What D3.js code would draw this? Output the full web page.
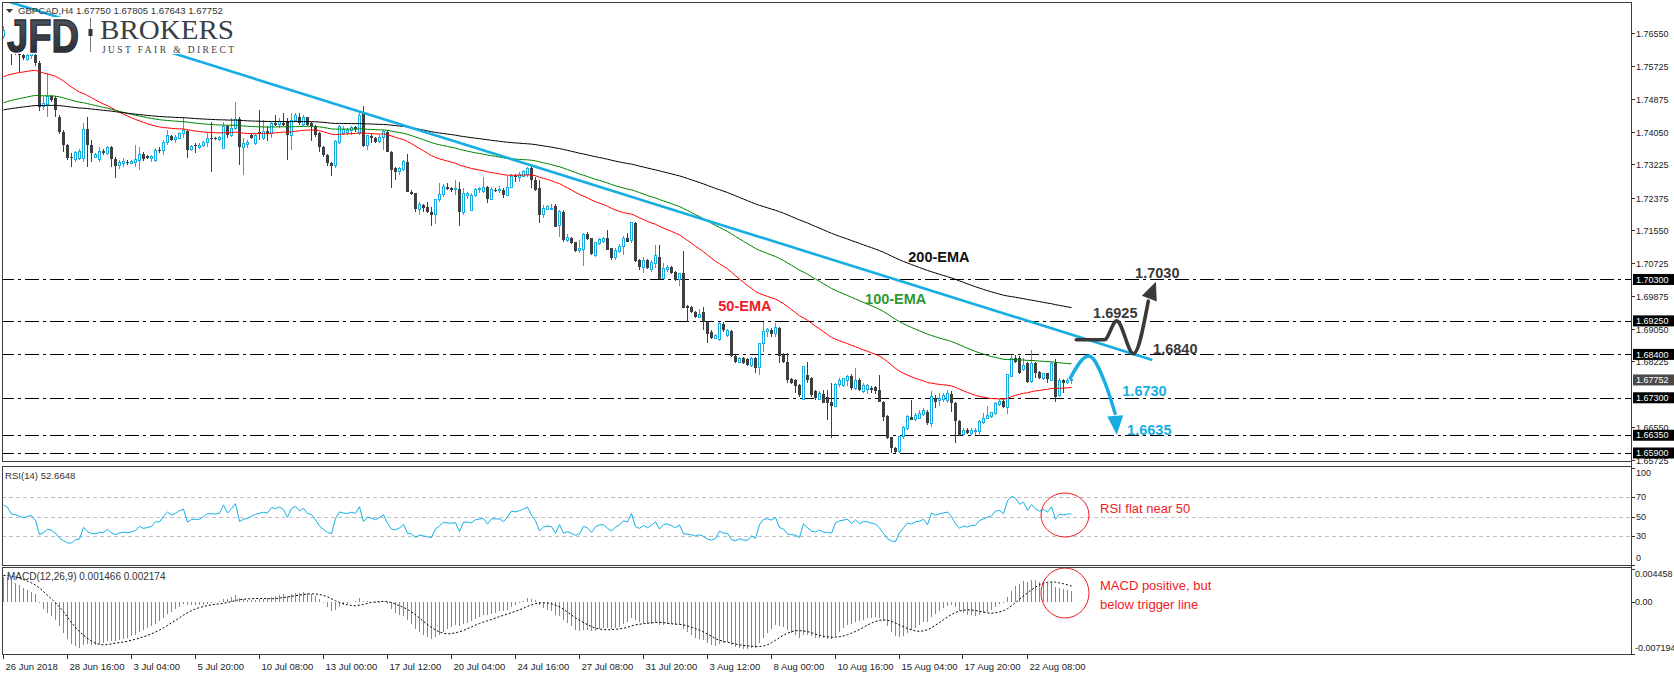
<!DOCTYPE html>
<html><head><meta charset="utf-8">
<script src="https://cdn.jsdelivr.net/npm/d3@7"></script>
<style>body{margin:0;background:#fff;overflow:hidden}svg{display:block}</style>
</head><body><svg id="c" width="1674" height="675" font-family="'Liberation Sans',Arial,sans-serif"></svg>
<script>
// ---------------- DATA ----------------
const symbolLabel = "GBPCAD,H4";
const opens = [
1.7645,1.7662,1.7650,1.7612,1.7608,1.7599,1.7587,1.7599,1.7599,1.7578,
1.7468,1.7473,1.7494,1.7490,1.7443,1.7405,1.7371,1.7341,1.7333,1.7337,
1.7337,1.7411,1.7371,1.7340,1.7333,1.7356,1.7350,1.7365,1.7335,1.7319,
1.7323,1.7329,1.7325,1.7326,1.7331,1.7348,1.7342,1.7337,1.7331,1.7359,
1.7358,1.7378,1.7394,1.7384,1.7388,1.7401,1.7407,1.7360,1.7370,1.7364,
1.7369,1.7378,1.7390,1.7389,1.7384,1.7363,1.7419,1.7396,1.7413,1.7436,
1.7365,1.7371,1.7396,1.7375,1.7405,1.7388,1.7407,1.7401,1.7426,1.7422,
1.7428,1.7433,1.7396,1.7432,1.7441,1.7422,1.7441,1.7426,1.7416,1.7401,
1.7367,1.7346,1.7326,1.7318,1.7377,1.7401,1.7402,1.7407,1.7416,1.7399,
1.7451,1.7369,1.7394,1.7390,1.7379,1.7390,1.7405,1.7354,1.7312,1.7303,
1.7308,1.7329,1.7253,1.7249,1.7208,1.7219,1.7215,1.7200,1.7194,1.7232,
1.7246,1.7264,1.7261,1.7258,1.7259,1.7200,1.7244,1.7206,1.7242,1.7257,
1.7253,1.7264,1.7233,1.7258,1.7255,1.7257,1.7244,1.7264,1.7292,1.7289,
1.7292,1.7297,1.7312,1.7282,1.7261,1.7194,1.7208,1.7211,1.7216,1.7168,
1.7202,1.7130,1.7135,1.7124,1.7103,1.7107,1.7145,1.7134,1.7090,1.7122,
1.7126,1.7134,1.7109,1.7086,1.7101,1.7113,1.7134,1.7128,1.7174,1.7079,
1.7061,1.7079,1.7056,1.7071,1.7088,1.7033,1.7056,1.7062,1.7050,1.7029,
1.7046,1.6963,1.6961,1.6948,1.6934,1.6948,1.6923,1.6898,1.6881,1.6877,
1.6917,1.6887,1.6900,1.6836,1.6819,1.6830,1.6828,1.6813,1.6830,1.6807,
1.6868,1.6898,1.6902,1.6892,1.6908,1.6839,1.6822,1.6777,1.6775,1.6762,
1.6726,1.6788,1.6779,1.6748,1.6726,1.6740,1.6733,1.6720,1.6709,1.6763,
1.6760,1.6775,1.6785,1.6754,1.6775,1.6746,1.6751,1.6754,1.6757,1.6751,
1.6720,1.6684,1.6630,1.6602,1.6593,1.6631,1.6653,1.6682,1.6674,1.6678,
1.6687,1.6695,1.6665,1.6729,1.6722,1.6726,1.6724,1.6740,1.6716,1.6670,
1.6636,1.6648,1.6640,1.6644,1.6644,1.6667,1.6678,1.6682,1.6691,1.6712,
1.6723,1.6706,1.6785,1.6830,1.6830,1.6802,1.6817,1.6771,1.6817,1.6796,
1.6779,1.6792,1.6775,1.6817,1.6735,1.6775,1.6768,1.67750];
const highs = [
1.7672,1.7668,1.7655,1.7640,1.7630,1.7620,1.7625,1.7625,1.7615,1.7585,
1.7494,1.7553,1.7497,1.7494,1.7448,1.7408,1.7373,1.7350,1.7356,1.7360,
1.7426,1.7441,1.7384,1.7350,1.7367,1.7360,1.7369,1.7368,1.7341,1.7333,
1.7337,1.7333,1.7332,1.7371,1.7367,1.7352,1.7345,1.7346,1.7363,1.7365,
1.7384,1.7409,1.7397,1.7396,1.7405,1.7443,1.7410,1.7372,1.7375,1.7375,
1.7382,1.7401,1.7430,1.7392,1.7394,1.7430,1.7422,1.7439,1.7481,1.7443,
1.7388,1.7384,1.7400,1.7399,1.7460,1.7435,1.7418,1.7430,1.7447,1.7439,
1.7451,1.7439,1.7451,1.7453,1.7451,1.7447,1.7443,1.7430,1.7422,1.7405,
1.7369,1.7348,1.7329,1.7384,1.7422,1.7418,1.7415,1.7418,1.7418,1.7453,
1.7470,1.7396,1.7399,1.7392,1.7396,1.7409,1.7409,1.7356,1.7314,1.7314,
1.7333,1.7348,1.7257,1.7249,1.7227,1.7221,1.7227,1.7215,1.7233,1.7274,
1.7272,1.7274,1.7265,1.7281,1.7278,1.7261,1.7253,1.7250,1.7263,1.7265,
1.7291,1.7267,1.7265,1.7261,1.7267,1.7261,1.7292,1.7297,1.7297,1.7303,
1.7308,1.7314,1.7318,1.7290,1.7282,1.7219,1.7219,1.7221,1.7221,1.7205,
1.7205,1.7146,1.7137,1.7126,1.7130,1.7147,1.7151,1.7136,1.7126,1.7135,
1.7137,1.7156,1.7111,1.7109,1.7120,1.7139,1.7147,1.7174,1.7176,1.7081,
1.7086,1.7081,1.7079,1.7117,1.7117,1.7073,1.7067,1.7064,1.7052,1.7047,
1.7103,1.6965,1.6963,1.6950,1.6954,1.6959,1.6925,1.6902,1.6892,1.6923,
1.6923,1.6904,1.6902,1.6838,1.6834,1.6834,1.6830,1.6834,1.6833,1.6870,
1.6923,1.6906,1.6906,1.6919,1.6910,1.6843,1.6843,1.6779,1.6777,1.6766,
1.6811,1.6822,1.6783,1.6751,1.6746,1.6751,1.6751,1.6767,1.6767,1.6779,
1.6781,1.6788,1.6790,1.6805,1.6779,1.6767,1.6765,1.6760,1.6760,1.6788,
1.6722,1.6686,1.6631,1.6606,1.6633,1.6658,1.6686,1.6724,1.6691,1.6699,
1.6703,1.6699,1.6748,1.6737,1.6741,1.6741,1.6750,1.6746,1.6720,1.6674,
1.6653,1.6653,1.6653,1.6653,1.6674,1.6691,1.6708,1.6695,1.6720,1.6726,
1.6729,1.6790,1.6839,1.6839,1.6836,1.6830,1.6822,1.6851,1.6822,1.6799,
1.6794,1.6794,1.6822,1.6828,1.6779,1.6777,1.6779,1.67805];
const lows = [
1.7640,1.7640,1.7574,1.7598,1.7557,1.7586,1.7584,1.7590,1.7572,1.7456,
1.7460,1.7443,1.7480,1.7443,1.7400,1.7354,1.7332,1.7316,1.7328,1.7333,
1.7329,1.7316,1.7329,1.7338,1.7329,1.7345,1.7346,1.7316,1.7287,1.7309,
1.7316,1.7320,1.7322,1.7316,1.7308,1.7330,1.7335,1.7329,1.7329,1.7350,
1.7346,1.7371,1.7380,1.7375,1.7386,1.7388,1.7337,1.7355,1.7350,1.7360,
1.7365,1.7367,1.7303,1.7383,1.7381,1.7362,1.7390,1.7392,1.7409,1.7320,
1.7295,1.7363,1.7385,1.7372,1.7384,1.7384,1.7380,1.7388,1.7418,1.7413,
1.7418,1.7333,1.7358,1.7430,1.7422,1.7418,1.7418,1.7380,1.7392,1.7354,
1.7341,1.7318,1.7293,1.7312,1.7374,1.7396,1.7396,1.7396,1.7405,1.7396,
1.7367,1.7358,1.7375,1.7375,1.7375,1.7358,1.7354,1.7261,1.7282,1.7295,
1.7306,1.7253,1.7244,1.7202,1.7193,1.7202,1.7198,1.7166,1.7171,1.7227,
1.7240,1.7257,1.7253,1.7244,1.7166,1.7193,1.7233,1.7204,1.7240,1.7249,
1.7249,1.7225,1.7231,1.7253,1.7250,1.7236,1.7244,1.7261,1.7278,1.7278,
1.7291,1.7291,1.7261,1.7254,1.7172,1.7185,1.7205,1.7205,1.7164,1.7137,
1.7126,1.7126,1.7120,1.7100,1.7098,1.7063,1.7130,1.7093,1.7088,1.7118,
1.7122,1.7106,1.7080,1.7080,1.7096,1.7092,1.7126,1.7122,1.7075,1.7054,
1.7046,1.7056,1.7050,1.7058,1.7029,1.7031,1.7050,1.7045,1.7026,1.7014,
1.6957,1.6923,1.6944,1.6932,1.6932,1.6902,1.6868,1.6878,1.6878,1.6875,
1.6898,1.6885,1.6834,1.6819,1.6817,1.6816,1.6811,1.6809,1.6792,1.6788,
1.6847,1.6885,1.6885,1.6885,1.6819,1.6817,1.6767,1.6765,1.6741,1.6733,
1.6725,1.6767,1.6733,1.6725,1.6725,1.6716,1.6674,1.6627,1.6708,1.6758,
1.6758,1.6760,1.6750,1.6750,1.6748,1.6741,1.6740,1.6741,1.6740,1.6720,
1.6670,1.6625,1.6589,1.6589,1.6589,1.6625,1.6649,1.6674,1.6672,1.6675,
1.6684,1.6661,1.6657,1.6703,1.6708,1.6720,1.6716,1.6695,1.6616,1.6633,
1.6632,1.6638,1.6636,1.6636,1.6632,1.6664,1.6675,1.6678,1.6687,1.6709,
1.6703,1.6688,1.6785,1.6819,1.6790,1.6799,1.6768,1.6768,1.6779,1.6777,
1.6775,1.6767,1.6773,1.6720,1.6731,1.6741,1.6765,1.67643];
const closes = [
1.7662,1.7650,1.7612,1.7608,1.7600,1.7591,1.7599,1.7602,1.7578,1.7468,
1.7477,1.7494,1.7485,1.7460,1.7405,1.7371,1.7337,1.7337,1.7352,1.7354,
1.7411,1.7371,1.7350,1.7346,1.7354,1.7350,1.7365,1.7335,1.7319,1.7326,
1.7329,1.7325,1.7328,1.7333,1.7348,1.7335,1.7339,1.7342,1.7358,1.7357,
1.7378,1.7394,1.7384,1.7390,1.7401,1.7407,1.7358,1.7368,1.7369,1.7369,
1.7378,1.7388,1.7388,1.7387,1.7390,1.7419,1.7396,1.7413,1.7436,1.7365,
1.7375,1.7378,1.7388,1.7396,1.7401,1.7405,1.7402,1.7426,1.7422,1.7430,
1.7422,1.7396,1.7434,1.7445,1.7428,1.7441,1.7422,1.7418,1.7396,1.7365,
1.7346,1.7326,1.7318,1.7379,1.7417,1.7411,1.7409,1.7416,1.7411,1.7447,
1.7369,1.7394,1.7388,1.7379,1.7390,1.7405,1.7354,1.7308,1.7303,1.7312,
1.7329,1.7253,1.7246,1.7208,1.7219,1.7211,1.7200,1.7194,1.7232,1.7246,
1.7265,1.7260,1.7258,1.7261,1.7200,1.7247,1.7247,1.7242,1.7258,1.7261,
1.7264,1.7233,1.7258,1.7257,1.7257,1.7244,1.7264,1.7292,1.7289,1.7295,
1.7303,1.7312,1.7282,1.7257,1.7194,1.7211,1.7215,1.7211,1.7164,1.7202,
1.7130,1.7137,1.7122,1.7103,1.7109,1.7145,1.7132,1.7095,1.7123,1.7132,
1.7134,1.7106,1.7084,1.7103,1.7113,1.7134,1.7126,1.7174,1.7077,1.7061,
1.7079,1.7058,1.7073,1.7092,1.7030,1.7058,1.7061,1.7047,1.7029,1.7044,
1.6957,1.6957,1.6948,1.6934,1.6940,1.6923,1.6892,1.6881,1.6887,1.6919,
1.6902,1.6900,1.6836,1.6822,1.6830,1.6817,1.6813,1.6830,1.6805,1.6868,
1.6898,1.6902,1.6893,1.6908,1.6836,1.6822,1.6774,1.6767,1.6760,1.6737,
1.6809,1.6775,1.6737,1.6729,1.6740,1.6718,1.6716,1.6709,1.6763,1.6775,
1.6779,1.6785,1.6754,1.6775,1.6750,1.6760,1.6760,1.6750,1.6746,1.6720,
1.6682,1.6627,1.6602,1.6593,1.6631,1.6655,1.6682,1.6674,1.6686,1.6689,
1.6699,1.6665,1.6733,1.6720,1.6729,1.6735,1.6740,1.6716,1.6670,1.6636,
1.6647,1.6640,1.6648,1.6648,1.6670,1.6678,1.6686,1.6692,1.6716,1.6720,
1.6706,1.6788,1.6830,1.6822,1.6794,1.6813,1.6771,1.6817,1.6792,1.6779,
1.6792,1.6777,1.6817,1.6733,1.6775,1.6767,1.6775,1.67752];

// x-axis: one label every 16 H4 bars, starting at bar 0
const xTickLabels = ["26 Jun 2018","28 Jun 16:00","3 Jul 04:00","5 Jul 20:00","10 Jul 08:00","13 Jul 00:00","17 Jul 12:00","20 Jul 04:00","24 Jul 16:00","27 Jul 08:00","31 Jul 20:00","3 Aug 12:00","8 Aug 00:00","10 Aug 16:00","15 Aug 04:00","17 Aug 20:00","22 Aug 08:00"];
const xTickStep = 16;
const priceTicks = [1.76550,1.75725,1.74875,1.74050,1.73225,1.72375,1.71550,1.70725,1.69875,1.69050,1.68225,1.66550,1.65725];
const priceDomain = [1.65697, 1.77336];
const levels = [1.7030,1.6925,1.6840,1.6730,1.6635,1.6590];
const rsiTicks = [100,70,50,30,0];
const rsiLevels = [70,50,30];
const macdTickLabels = ["0.004458","0.00","-0.007194"];
const macdDomain = [-0.007194, 0.004458];
const rsiHeader = "RSI(14) 52.6648";
const macdHeader = "MACD(12,26,9) 0.001466 0.002174";

// EMA periods and their values at the first visible bar
const emaPeriods = [50,100,200];
const emaStart = [1.7544,1.7478,1.7460];
// indicator state at the first visible bar
const rsiStartGain = 0.0014, rsiStartLoss = 0.00086;
const macdStartFast = 1.7625, macdStartSlow = 1.7591, macdPriorSignal = 0.0036;

// trend line: [bar index, price]
const trendLine = [[-0.8,1.7741],[287.2,1.6826]];
// scenario paths: [bar index, price]
const bullPath = [[268.2,1.6877],[275.2,1.6877],[278.3,1.6925],[282.5,1.6842],[286.2,1.6975]];
const bullTip = [288.1,1.7024];
const bearPath = [[266.7,1.6780],[271.3,1.6836],[275.6,1.6762],[277.9,1.6690]];
const bearTip = [278.3,1.6636];
const levelNotes = [
  {t:"1.7030", i:282.9, p:1.70338, k:"dark"},
  {t:"1.6925", i:272.4, p:1.69324, k:"dark"},
  {t:"1.6840", i:287.4, p:1.68411, k:"dark"},
  {t:"1.6730", i:279.7, p:1.67346, k:"cyan"},
  {t:"1.6635", i:280.9, p:1.66357, k:"cyan"}];
const emaNotes = [
  {t:"200-EMA", i:226.2, p:1.70744, k:2},
  {t:"100-EMA", i:215.4, p:1.69680, k:1},
  {t:"50-EMA",  i:178.7, p:1.69501, k:0}];

// ---------------- STYLE / LAYOUT ----------------
const BULL="#16aee2", BEAR="#3f3f3f", CYAN="#16aee2", DARK="#3a3a3a", RED="#ee1c25";
const emaColors=["#ff0000","#008000","#000000"];
const emaTextColors=["#ee1c25","#2f9a2f","#111111"];
const L=2, R=1631;
const MT=2, MB=461, RT=466, RB=565, CT=567, CB=654;

const n = closes.length;
const x = d3.scaleLinear().domain([0,n-1]).range([3.5, 3.5+4*(n-1)]);
const yP = d3.scaleLinear().domain(priceDomain).range([MB,MT]);
const yR = d3.scaleLinear().domain([0,100]).range([565,468]);
const yM = d3.scaleLinear().domain(macdDomain).range([654,569]);

// ---------------- INDICATORS ----------------
function ema(period, start){ const k=2/(period+1); let e=start; return closes.map((c,i)=> i===0? e : (e=e+k*(c-e))); }
const emas = emaPeriods.map((p,j)=>ema(p, emaStart[j]));
let ag=rsiStartGain, al=rsiStartLoss;
const rsi = closes.map((c,i)=>{ if(i>0){const ch=c-closes[i-1]; ag=(ag*13+Math.max(ch,0))/14; al=(al*13+Math.max(-ch,0))/14;} return 100-100/(1+ag/al); });
let e12=macdStartFast, e26=macdStartSlow;
const macd = closes.map((c,i)=>{ if(i>0){ e12+= (2/13)*(c-e12); e26 += (2/27)*(c-e26);} return e12-e26; });
const signal = macd.map((m,i)=>{ let s=0; for(let j=i-8;j<=i;j++) s+= j<0? macdPriorSignal : macd[j]; return s/9; });

// ---------------- DRAW ----------------
const svg=d3.select('#c');
const defs=svg.append('defs');
[['cm',MT,MB],['cr',RT,RB],['cc',CT,CB]].forEach(([id,t,b])=>defs.append('clipPath').attr('id',id).append('rect').attr('x',L).attr('y',t).attr('width',R-L).attr('height',b-t));
const grad=defs.append('linearGradient').attr('id','jfdg').attr('x1',0).attr('y1',0).attr('x2',0).attr('y2',1);
grad.append('stop').attr('offset','0').attr('stop-color','#565c64');
grad.append('stop').attr('offset','1').attr('stop-color','#22262c');

// ---- main panel ----
const main=svg.append('g').attr('clip-path','url(#cm)');
main.selectAll('line.lvl').data(levels).join('line').attr('class','lvl')
  .attr('x1',0).attr('x2',R).attr('y1',d=>Math.round(yP(d))+0.5).attr('y2',d=>Math.round(yP(d))+0.5)
  .attr('stroke','#000').attr('stroke-width',1).attr('stroke-dasharray','14,4,3,4');

const bars=d3.range(n).map(i=>({i,o:opens[i],h:highs[i],l:lows[i],c:closes[i]}));
const cg=main.append('g').attr('shape-rendering','crispEdges');
cg.selectAll('line').data(bars).join('line')
  .attr('x1',d=>x(d.i)).attr('x2',d=>x(d.i)).attr('y1',d=>yP(d.h)).attr('y2',d=>yP(d.l))
  .attr('stroke',d=>d.c>=d.o?BULL:BEAR);
cg.selectAll('rect').data(bars).join('rect')
  .attr('x',d=>d.c>=d.o? x(d.i)-1 : x(d.i)-1.5)
  .attr('width',d=>d.c>=d.o?2:3)
  .attr('y',d=>yP(Math.max(d.o,d.c)))
  .attr('height',d=>Math.max(1,Math.abs(yP(d.o)-yP(d.c))))
  .attr('fill',d=>d.c>=d.o?'#fff':BEAR)
  .attr('stroke',d=>d.c>=d.o?BULL:'none').attr('stroke-width',1);

const lineGen=d3.line().x((v,i)=>x(i)).y(v=>yP(v));
emas.forEach((arr,j)=>main.append('path').attr('d',lineGen(arr)).attr('fill','none').attr('stroke',emaColors[j]).attr('stroke-width',1));

main.append('line').attr('x1',x(trendLine[0][0])).attr('y1',yP(trendLine[0][1])).attr('x2',x(trendLine[1][0])).attr('y2',yP(trendLine[1][1]))
  .attr('stroke',CYAN).attr('stroke-width',2.6);

// scenario arrows
function arrow(pts, tip, color, w, hw, hl){
  const pl=d3.line().x(d=>x(d[0])).y(d=>yP(d[1])).curve(d3.curveMonotoneX);
  main.append('path').attr('d',pl(pts)).attr('fill','none').attr('stroke',color).attr('stroke-width',w).attr('stroke-linecap','round');
  const b=pts[pts.length-1]; const bx=x(b[0]), by=yP(b[1]), tx=x(tip[0]), ty=yP(tip[1]);
  const dx=tx-bx, dy=ty-by, len=Math.hypot(dx,dy), ux=dx/len, uy=dy/len;
  const sx=tx-ux*hl, sy=ty-uy*hl;
  main.append('path').attr('d',`M${tx},${ty}L${sx-uy*hw},${sy+ux*hw}L${sx+uy*hw},${sy-ux*hw}Z`).attr('fill',color);
}
arrow(bullPath,bullTip,DARK,3.6,8,18);
arrow(bearPath,bearTip,CYAN,3.4,8,19);

main.selectAll('text.ln').data(levelNotes).join('text').attr('class','ln')
  .attr('x',d=>x(d.i)).attr('y',d=>yP(d.p)).text(d=>d.t)
  .attr('font-size',14.5).attr('font-weight','bold').attr('fill',d=>d.k==='dark'?DARK:CYAN);
main.selectAll('text.en').data(emaNotes).join('text').attr('class','en')
  .attr('x',d=>x(d.i)).attr('y',d=>yP(d.p)).text(d=>d.t)
  .attr('font-size',14.5).attr('font-weight','bold').attr('fill',d=>emaTextColors[d.k]);

// logo
const logo=svg.append('g');
logo.append('rect').attr('x',5).attr('y',17).attr('width',236).attr('height',37).attr('fill','#fff');
logo.append('text').attr('x',7).attr('y',52).text('JFD').attr('font-size',46).attr('font-weight','bold')
  .attr('textLength',72).attr('lengthAdjust','spacingAndGlyphs').attr('fill','url(#jfdg)')
  .attr('stroke','#2c3036').attr('stroke-width',1.4);
logo.append('line').attr('x1',90.5).attr('x2',90.5).attr('y1',18).attr('y2',52).attr('stroke','#777').attr('stroke-width',1);
logo.append('rect').attr('x',88.5).attr('y',29).attr('width',4).attr('height',7).attr('fill','#333');
logo.append('text').attr('x',100).attr('y',39).text('BROKERS').attr('font-family','"Liberation Serif","DejaVu Serif",serif').attr('font-size',27)
  .attr('textLength',134).attr('lengthAdjust','spacingAndGlyphs').attr('fill','#3a3f46');
logo.append('text').attr('x',102).attr('y',52.5).text('JUST FAIR & DIRECT').attr('font-family','"Liberation Serif","DejaVu Serif",serif').attr('font-size',9.5)
  .attr('textLength',132).attr('lengthAdjust','spacing').attr('fill','#3a3f46');

// header
svg.append('path').attr('d','M6,9L13,9L9.5,13Z').attr('fill','#333');
svg.append('text').attr('x',18).attr('y',14).attr('font-size',9.6).attr('fill','#333')
  .text(`${symbolLabel}  ${opens[n-1].toFixed(5)} ${highs[n-1].toFixed(5)} ${lows[n-1].toFixed(5)} ${closes[n-1].toFixed(5)}`);

// ---- RSI panel ----
const rg=svg.append('g').attr('clip-path','url(#cr)');
rg.selectAll('line').data(rsiLevels).join('line').attr('x1',L).attr('x2',R)
  .attr('y1',d=>Math.round(yR(d))+0.5).attr('y2',d=>Math.round(yR(d))+0.5).attr('stroke','#c0c0c0').attr('stroke-dasharray','4,3');
rg.append('path').attr('d',d3.line().x((v,i)=>x(i)).y(v=>yR(v))(rsi)).attr('fill','none').attr('stroke',CYAN).attr('stroke-width',1);
svg.append('text').attr('x',5).attr('y',479).attr('font-size',9.6).attr('fill','#333').text(rsiHeader);

// ---- MACD panel ----
const mg=svg.append('g').attr('clip-path','url(#cc)');
mg.append('g').attr('shape-rendering','crispEdges').selectAll('line').data(macd).join('line')
  .attr('x1',(v,i)=>x(i)).attr('x2',(v,i)=>x(i)).attr('y1',yM(0)).attr('y2',v=>yM(v)).attr('stroke',CYAN).attr('stroke-width',1);
mg.append('path').attr('d',d3.line().x((v,i)=>x(i)).y(v=>yM(v))(signal)).attr('fill','none').attr('stroke','#000').attr('stroke-width',1).attr('stroke-dasharray','2,2');
svg.append('text').attr('x',7).attr('y',580).attr('font-size',10).attr('fill','#333').text(macdHeader);

// ---- notes on indicator panels ----
svg.append('ellipse').attr('cx',1065).attr('cy',515).attr('rx',24).attr('ry',22).attr('fill','none').attr('stroke',RED).attr('stroke-width',1);
svg.append('text').attr('x',1100).attr('y',513).attr('font-size',13).attr('fill',RED).text('RSI flat near 50');
svg.append('ellipse').attr('cx',1065).attr('cy',593).attr('rx',24).attr('ry',25).attr('fill','none').attr('stroke',RED).attr('stroke-width',1);
svg.append('text').attr('x',1100).attr('y',590).attr('font-size',13).attr('fill',RED).text('MACD positive, but');
svg.append('text').attr('x',1100).attr('y',609).attr('font-size',13).attr('fill',RED).text('below trigger line');

// ---- frames ----
const fr=svg.append('g').attr('fill','none').attr('stroke','#3c3c3c').attr('shape-rendering','crispEdges');
fr.append('rect').attr('x',L+0.5).attr('y',MT+0.5).attr('width',R-L).attr('height',MB-MT);
fr.append('rect').attr('x',L+0.5).attr('y',RT+0.5).attr('width',R-L).attr('height',RB-RT);
fr.append('rect').attr('x',L+0.5).attr('y',CT+0.5).attr('width',R-L).attr('height',CB-CT);

// ---- right axes ----
const ax=svg.append('g').attr('font-size',9).attr('fill','#222');
function yTicks(vals,scale,fmt){
  vals.forEach(v=>{ const yy=Math.round(scale(v))+0.5;
    ax.append('line').attr('x1',R+0.5).attr('x2',R+4).attr('y1',yy).attr('y2',yy).attr('stroke','#333');
    ax.append('text').attr('x',R+5).attr('y',yy).attr('dy','0.35em').text(fmt(v)); });
}
yTicks(priceTicks,yP,v=>v.toFixed(5));
rsiTicks.forEach(v=>{ let yy=yR(v); if(v===100) yy=473; if(v===0) yy=558;
  ax.append('line').attr('x1',R+0.5).attr('x2',R+4).attr('y1',Math.round(yR(v))+0.5).attr('y2',Math.round(yR(v))+0.5).attr('stroke','#333');
  ax.append('text').attr('x',R+5).attr('y',yy).attr('dy','0.35em').text(v); });
const macdVals=[macdDomain[1],0,macdDomain[0]];
macdVals.forEach((v,k)=>{ let yy=yM(v); if(k===0) yy=574; if(k===2) yy=648;
  ax.append('line').attr('x1',R+0.5).attr('x2',R+4).attr('y1',Math.round(yM(v))+0.5).attr('y2',Math.round(yM(v))+0.5).attr('stroke','#333');
  ax.append('text').attr('x',R+4).attr('y',yy).attr('dy','0.35em').text(macdTickLabels[k]); });
levels.forEach(v=>{ const yy=yP(v);
  ax.append('rect').attr('x',R+2).attr('y',yy-5.5).attr('width',50).attr('height',11).attr('fill','#000');
  ax.append('text').attr('x',R+5).attr('y',yy).attr('dy','0.35em').attr('fill','#fff').text(v.toFixed(5)); });
{ const v=closes[n-1], yy=yP(v);
  ax.append('rect').attr('x',R+2).attr('y',yy-5.5).attr('width',50).attr('height',11).attr('fill','#4a4a4a');
  ax.append('text').attr('x',R+5).attr('y',yy).attr('dy','0.35em').attr('fill','#fff').text(v.toFixed(5)); }
svg.append('line').attr('x1',R+0.5).attr('x2',R+0.5).attr('y1',MT).attr('y2',CB+1).attr('stroke','#3c3c3c');

// ---- x axis ----
const xa=svg.append('g').attr('font-size',9.5).attr('fill','#222');
xTickLabels.forEach((lab,k)=>{ const xx=Math.round(x(k*xTickStep))-0.5;
  xa.append('line').attr('x1',xx).attr('x2',xx).attr('y1',CB).attr('y2',CB+5).attr('stroke','#333');
  xa.append('text').attr('x',xx+2).attr('y',670).text(lab); });
</script></body></html>
